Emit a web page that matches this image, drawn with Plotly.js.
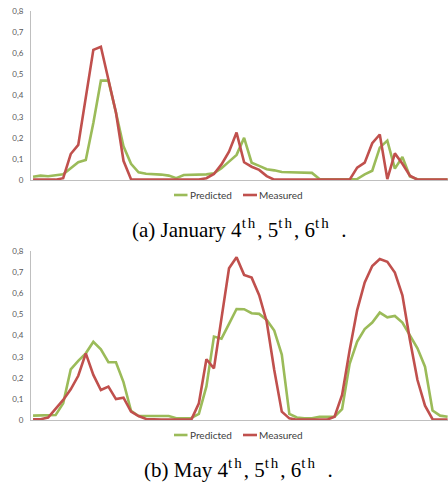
<!DOCTYPE html>
<html>
<head>
<meta charset="utf-8">
<script src="https://cdn.plot.ly/plotly-3.0.1.min.js"></script>
<style>
  html, body { margin: 0; padding: 0; background: #ffffff; }
  #chart { width: 448px; height: 483px; }
</style>
</head>
<body>
<div id="chart"></div>
<script>
// ---- Data ----
const janPredicted = [0.017,0.022,0.019,0.022,0.028,0.057,0.085,0.096,0.27,0.47,
  0.47,0.32,0.16,0.078,0.038,0.031,0.030,0.027,0.022,0.010,
  0.025,0.025,0.027,0.028,0.033,0.057,0.088,0.12,0.20,0.083,
  0.068,0.052,0.047,0.039,0.038,0.036,0.036,0.035,0.006,0.005,
  0.005,0.005,0.005,0.006,0.028,0.045,0.154,0.187,0.055,0.11,
  0.018,0.005,0.004,0.004,0.004,0.004];
const janMeasured = [0.003,0.003,0.003,0.003,0.01,0.124,0.167,0.39,0.615,0.63,
  0.47,0.32,0.092,0.005,0.003,0.003,0.003,0.003,0.003,0.003,
  0.003,0.003,0.004,0.01,0.03,0.075,0.135,0.225,0.085,0.064,
  0.049,0.02,0.003,0.003,0.003,0.003,0.003,0.003,0.003,0.003,
  0.003,0.003,0.003,0.06,0.083,0.175,0.216,0.006,0.127,0.078,
  0.022,0.003,0.003,0.003,0.003,0.003];
const mayPredicted = [0.022,0.022,0.022,0.025,0.08,0.24,0.28,0.316,0.37,0.335,
  0.274,0.274,0.18,0.045,0.02,0.02,0.02,0.02,0.02,0.01,
  0.011,0.011,0.03,0.16,0.395,0.385,0.455,0.525,0.524,0.505,
  0.502,0.473,0.423,0.31,0.03,0.013,0.01,0.01,0.017,0.017,
  0.017,0.053,0.266,0.371,0.43,0.461,0.508,0.486,0.492,0.461,
  0.403,0.34,0.253,0.046,0.022,0.017];
const mayMeasured = [0.005,0.005,0.013,0.057,0.096,0.146,0.21,0.316,0.214,0.143,
  0.159,0.1,0.107,0.041,0.02,0.006,0.003,0.003,0.003,0.003,
  0.003,0.003,0.08,0.288,0.245,0.47,0.717,0.769,0.686,0.673,
  0.59,0.465,0.237,0.041,0.009,0.003,0.003,0.003,0.003,0.003,
  0.017,0.12,0.33,0.52,0.65,0.728,0.761,0.748,0.697,0.59,
  0.379,0.19,0.069,0.005,0.003,0.003];
const timeSteps = janPredicted.map((_, i) => i);
const seriesNames = ['Predicted', 'Measured'];
const yTicks = [0, 0.1, 0.2, 0.3, 0.4, 0.5, 0.6, 0.7, 0.8];

// ---- Styles ----
const GREEN = '#9BBB59';
const RED = '#C0504D';
const AXIS = '#BFBFBF';
const LW = 2.6;

function line(y, color, xa, ya, name) {
  return { x: timeSteps, y: y, type: 'scatter', mode: 'lines', name: name,
    line: { color: color, width: LW }, xaxis: xa, yaxis: ya,
    showlegend: false, hoverinfo: 'skip' };
}

const data = [
  line(janPredicted, GREEN, 'x', 'y', seriesNames[0]),
  line(janMeasured, RED, 'x', 'y', seriesNames[1]),
  line(mayPredicted, GREEN, 'x2', 'y2', seriesNames[0]),
  line(mayMeasured, RED, 'x2', 'y2', seriesNames[1])
];

const H = 483, PL = 31, PW = 417;
const py = v => (H - v) / H;          // pixel y -> paper y
const px = v => (v - PL) / PW;        // pixel x -> paper x

const xCommon = { range: [-0.27, 55.05], showgrid: false, zeroline: false,
  showticklabels: false, ticks: '', showline: true, linecolor: AXIS, linewidth: 1,
  fixedrange: true };
const yCommon = { range: [0, 0.8], tickvals: yTicks, showgrid: false, zeroline: false,
  showline: true, linecolor: AXIS, linewidth: 1, ticks: '',
  tickfont: { family: 'Lato, "Open Sans", sans-serif', size: 8, color: '#595959' },
  ticklabelstandoff: 5, fixedrange: true };

// legend built as shapes + annotations (short line samples like the original)
const shapes = [];
const annotations = [];
[195, 435].forEach((ly) => {
  shapes.push({ type: 'line', xref: 'paper', yref: 'paper', x0: px(174), x1: px(187.5),
    y0: py(ly), y1: py(ly), line: { color: GREEN, width: 2.6 } });
  shapes.push({ type: 'line', xref: 'paper', yref: 'paper', x0: px(243), x1: px(257),
    y0: py(ly), y1: py(ly), line: { color: RED, width: 2.6 } });
  annotations.push({ xref: 'paper', yref: 'paper', x: px(187.5), y: py(ly),
    xanchor: 'left', yanchor: 'middle', showarrow: false, text: seriesNames[0],
    font: { family: 'Lato, "Open Sans", sans-serif', size: 10, color: '#404040' } });
  annotations.push({ xref: 'paper', yref: 'paper', x: px(257), y: py(ly),
    xanchor: 'left', yanchor: 'middle', showarrow: false, text: seriesNames[1],
    font: { family: 'Lato, "Open Sans", sans-serif', size: 10, color: '#404040' } });
});
const capFont = { family: '"Liberation Serif", "Times New Roman", serif', size: 21, color: '#000000' };
const th = '<sup><span style="font-size:15px;letter-spacing:2px">th</span></sup>';
annotations.push({ xref: 'paper', yref: 'paper', x: px(239), y: py(228), xanchor: 'center',
  yanchor: 'middle', showarrow: false, font: capFont,
  text: '(a) January 4' + th + ', 5' + th + ', 6' + th + '&#8194;.' });
annotations.push({ xref: 'paper', yref: 'paper', x: px(238), y: py(468), xanchor: 'center',
  yanchor: 'middle', showarrow: false, font: capFont,
  text: '(b) May 4' + th + ', 5' + th + ', 6' + th + '&#8194;.' });

const layout = {
  width: 448, height: 483,
  margin: { l: PL, r: 0, t: 0, b: 0, pad: 0 },
  paper_bgcolor: '#ffffff', plot_bgcolor: '#ffffff',
  separators: ', ',
  showlegend: false,
  xaxis: Object.assign({}, xCommon, { domain: [0, 1], anchor: 'y' }),
  yaxis: Object.assign({}, yCommon, { domain: [py(180.3), py(10.7)], anchor: 'x' }),
  xaxis2: Object.assign({}, xCommon, { domain: [0, 1], anchor: 'y2' }),
  yaxis2: Object.assign({}, yCommon, { domain: [py(420.3), py(250.7)], anchor: 'x2' }),
  shapes: shapes,
  annotations: annotations
};

Plotly.newPlot('chart', data, layout, { staticPlot: true, displayModeBar: false });
</script>
</body>
</html>
